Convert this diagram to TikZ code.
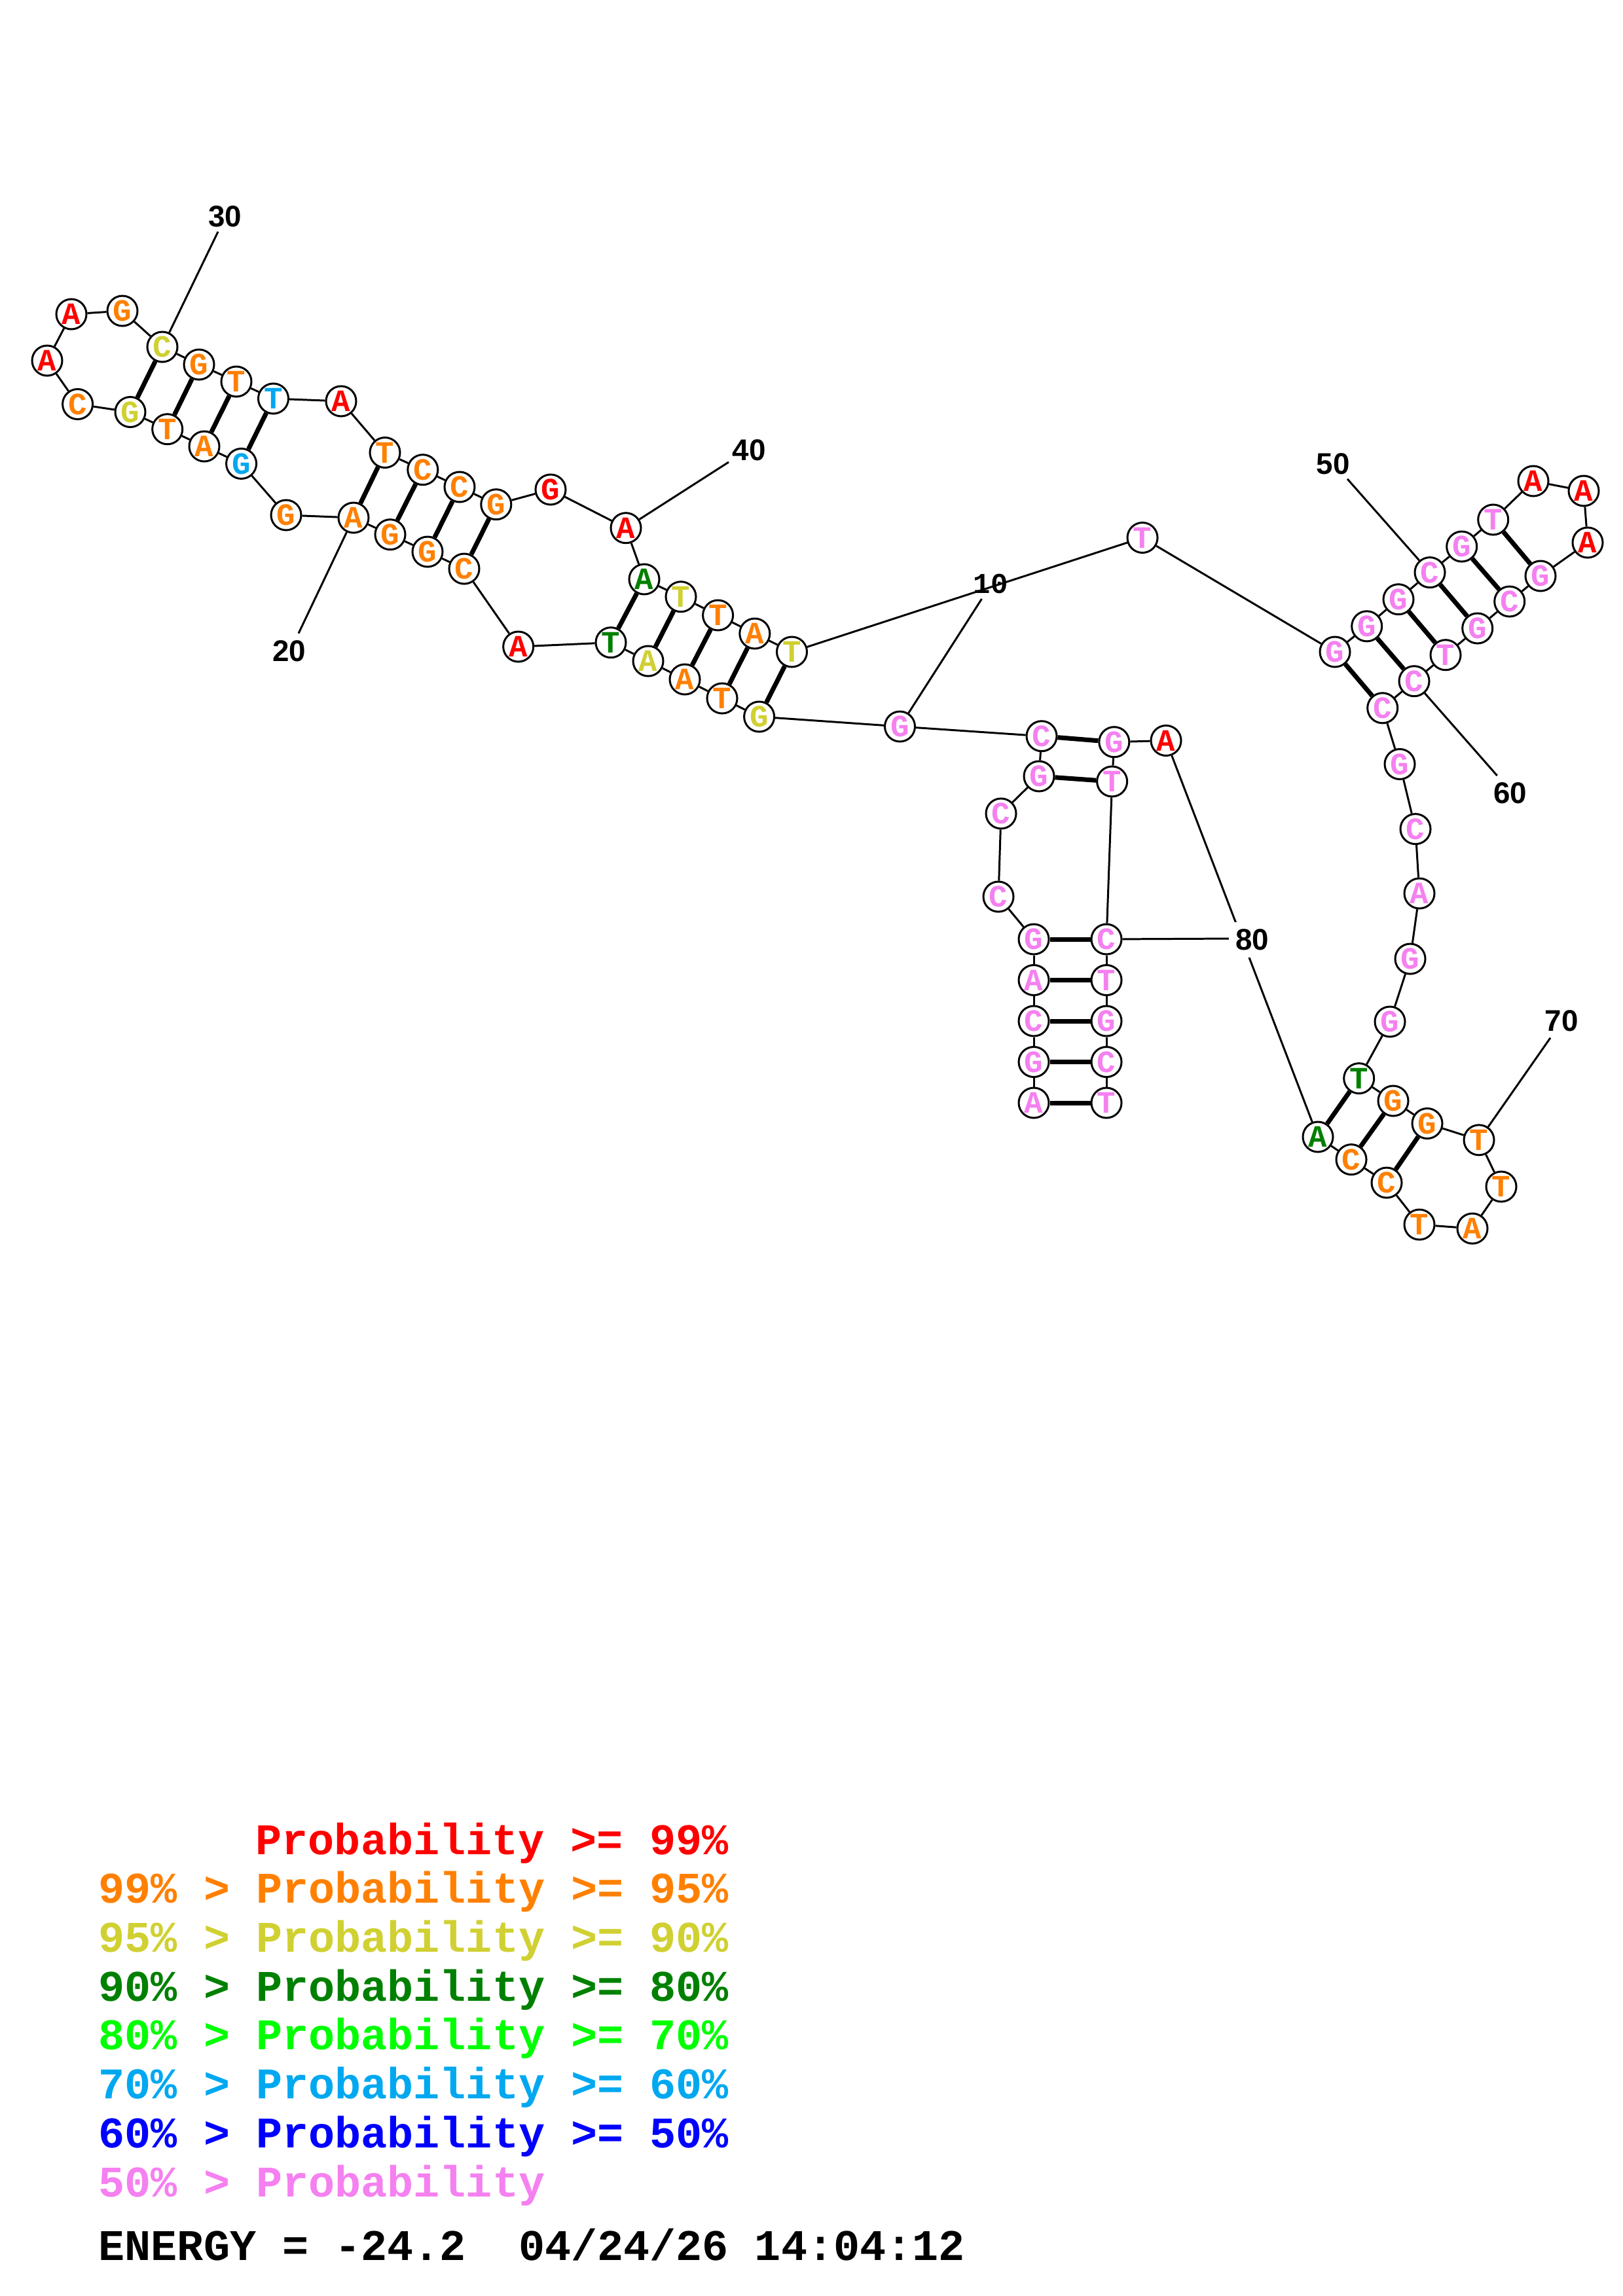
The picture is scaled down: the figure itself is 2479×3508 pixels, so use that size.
\documentclass[tikz,border=0pt]{standalone}
\usepackage{fontspec}
\newfontfamily\monof{Liberation Mono}
\newfontfamily\sansf{Liberation Sans}
\definecolor{rd}{RGB}{255,0,0}
\definecolor{orn}{RGB}{255,128,0}
\definecolor{yel}{RGB}{208,208,50}
\definecolor{dgr}{RGB}{0,128,0}
\definecolor{bgr}{RGB}{0,255,0}
\definecolor{sky}{RGB}{0,168,240}
\definecolor{blu}{RGB}{0,0,255}
\definecolor{pk}{RGB}{245,128,240}
\begin{document}
\begin{tikzpicture}[x=0.01cm,y=-0.01cm,
  nt/.style={circle,draw,line width=0.85pt,minimum size=0.46cm,inner sep=0pt,fill=white,
    font=\monof\bfseries\fontsize{13.5}{13.5}\selectfont},
  bb/.style={line width=0.85pt},
  bp/.style={line width=2pt},
  lab/.style={font=\sansf\bfseries\fontsize{13}{13}\selectfont,inner sep=1pt},
  labm/.style={font=\monof\bfseries\fontsize{12.5}{12.5}\selectfont,inner sep=1pt},
  leg/.style={anchor=base west,inner sep=0pt,font=\monof\bfseries\fontsize{19}{19}\selectfont}]
\useasboundingbox (0,0) rectangle (2479,3508);
% nucleotides
\node[nt,text=pk] (n1) at (1579,1685) {A};
\node[nt,text=pk] (n2) at (1579,1622.5) {G};
\node[nt,text=pk] (n3) at (1579,1560) {C};
\node[nt,text=pk] (n4) at (1579,1497.5) {A};
\node[nt,text=pk] (n5) at (1579,1435) {G};
\node[nt,text=pk] (n6) at (1525,1370) {C};
\node[nt,text=pk] (n7) at (1529,1243) {C};
\node[nt,text=pk] (n8) at (1587,1186) {G};
\node[nt,text=pk] (n9) at (1591,1124.7) {C};
\node[nt,text=pk] (n10) at (1374.5,1110) {G};
\node[nt,text=yel] (n11) at (1159.6,1095) {G};
\node[nt,text=orn] (n12) at (1103,1067) {T};
\node[nt,text=orn] (n13) at (1046,1038) {A};
\node[nt,text=yel] (n14) at (990,1010) {A};
\node[nt,text=dgr] (n15) at (933,981.7) {T};
\node[nt,text=rd] (n16) at (791.7,988) {A};
\node[nt,text=orn] (n17) at (709,869) {C};
\node[nt,text=orn] (n18) at (653,843) {G};
\node[nt,text=orn] (n19) at (596,816.7) {G};
\node[nt,text=orn] (n20) at (540,791) {A};
\node[nt,text=orn] (n21) at (437,787) {G};
\node[nt,text=sky] (n22) at (368.6,708.4) {G};
\node[nt,text=orn] (n23) at (312,682) {A};
\node[nt,text=orn] (n24) at (255.7,655.7) {T};
\node[nt,text=yel] (n25) at (199,629.5) {G};
\node[nt,text=orn] (n26) at (118.6,617.5) {C};
\node[nt,text=rd] (n27) at (72,551) {A};
\node[nt,text=rd] (n28) at (109,480) {A};
\node[nt,text=orn] (n29) at (187,475) {G};
\node[nt,text=yel] (n30) at (248,530) {C};
\node[nt,text=orn] (n31) at (304,557) {G};
\node[nt,text=orn] (n32) at (361,583) {T};
\node[nt,text=sky] (n33) at (417.5,609) {T};
\node[nt,text=rd] (n34) at (521,613) {A};
\node[nt,text=orn] (n35) at (588,691.5) {T};
\node[nt,text=orn] (n36) at (645.8,717.7) {C};
\node[nt,text=orn] (n37) at (702,744) {C};
\node[nt,text=orn] (n38) at (757.8,770.7) {G};
\node[nt,text=rd] (n39) at (841,748) {G};
\node[nt,text=rd] (n40) at (956,806.7) {A};
\node[nt,text=dgr] (n41) at (984,885) {A};
\node[nt,text=yel] (n42) at (1040,911.7) {T};
\node[nt,text=orn] (n43) at (1096.6,940) {T};
\node[nt,text=orn] (n44) at (1152.8,968) {A};
\node[nt,text=yel] (n45) at (1209.5,996) {T};
\node[nt,text=pk] (n46) at (1745,821.5) {T};
\node[nt,text=pk] (n47) at (2039,996) {G};
\node[nt,text=pk] (n48) at (2087.7,956.8) {G};
\node[nt,text=pk] (n49) at (2136,915.7) {G};
\node[nt,text=pk] (n50) at (2184,874.6) {C};
\node[nt,text=pk] (n51) at (2232.7,835) {G};
\node[nt,text=pk] (n52) at (2280.7,794) {T};
\node[nt,text=rd] (n53) at (2342,735) {A};
\node[nt,text=rd] (n54) at (2419,750) {A};
\node[nt,text=rd] (n55) at (2425,829) {A};
\node[nt,text=pk] (n56) at (2353,880) {G};
\node[nt,text=pk] (n57) at (2305.7,919) {C};
\node[nt,text=pk] (n58) at (2256.7,960) {G};
\node[nt,text=pk] (n59) at (2208,1000.7) {T};
\node[nt,text=pk] (n60) at (2160,1040.7) {C};
\node[nt,text=pk] (n61) at (2111.7,1081.8) {C};
\node[nt,text=pk] (n62) at (2138,1167.5) {G};
\node[nt,text=pk] (n63) at (2162,1266.6) {C};
\node[nt,text=pk] (n64) at (2168,1365) {A};
\node[nt,text=pk] (n65) at (2154,1465) {G};
\node[nt,text=pk] (n66) at (2123,1561) {G};
\node[nt,text=dgr] (n67) at (2075.7,1647.6) {T};
\node[nt,text=orn] (n68) at (2128,1682) {G};
\node[nt,text=orn] (n69) at (2180,1716.5) {G};
\node[nt,text=orn] (n70) at (2259,1741.8) {T};
\node[nt,text=orn] (n71) at (2293,1813) {T};
\node[nt,text=orn] (n72) at (2249,1877) {A};
\node[nt,text=orn] (n73) at (2168,1871) {T};
\node[nt,text=orn] (n74) at (2118,1807) {C};
\node[nt,text=orn] (n75) at (2064,1771.6) {C};
\node[nt,text=dgr] (n76) at (2013,1737) {A};
\node[nt,text=rd] (n77) at (1781,1131.5) {A};
\node[nt,text=pk] (n78) at (1701.8,1133.7) {G};
\node[nt,text=pk] (n79) at (1698.6,1194) {T};
\node[nt,text=pk] (n80) at (1690,1435) {C};
\node[nt,text=pk] (n81) at (1690,1497.5) {T};
\node[nt,text=pk] (n82) at (1690,1560) {G};
\node[nt,text=pk] (n83) at (1690,1622.5) {C};
\node[nt,text=pk] (n84) at (1690,1685) {T};
% backbone
\foreach \i in {1,...,83}{\pgfmathtruncatemacro\j{\i+1}\draw[bb] (n\i) -- (n\j);}
% base pairs
\foreach \a/\b in {1/84,2/83,3/82,4/81,5/80,8/79,9/78,11/45,12/44,13/43,14/42,15/41,
  17/38,18/37,19/36,20/35,22/33,23/32,24/31,25/30,47/61,48/60,49/59,50/58,51/57,52/56,
  67/76,68/75,69/74}{\draw[bp] (n\a) -- (n\b);}
% numbering ticks
\coordinate (t10) at (1499.5,915);
\coordinate (t20) at (456,967.7);
\coordinate (t30) at (333,354);
\coordinate (t40) at (1113,706);
\coordinate (t50) at (2058,731.8);
\coordinate (t60) at (2286.7,1185);
\coordinate (t70) at (2368,1585.7);
\coordinate (t80) at (1883.7,1434);
\foreach \k in {10,20,30,40,50,60,70,80}{\draw[bb] (n\k) -- (t\k);}
\node[labm] (l10) at (1513,891.7) {10};
\node[lab] (l20) at (441.7,995) {20};
\node[lab] (l30) at (343.6,331) {30};
\node[lab] (l40) at (1144,688) {40};
\node[lab] (l50) at (2036,708.6) {50};
\node[lab] (l60) at (2306.7,1212) {60};
\node[lab] (l70) at (2385,1560) {70};
\node[lab,fill=white,inner sep=3pt] (l80) at (1912.6,1436) {80};
% legend
\node[leg,text=rd] (g1) at (390,2833) {Probability >= 99\%};
\node[leg,text=orn] (g2) at (150,2907) {99\% > Probability >= 95\%};
\node[leg,text=yel] (g3) at (150,2982) {95\% > Probability >= 90\%};
\node[leg,text=dgr] (g4) at (150,3057) {90\% > Probability >= 80\%};
\node[leg,text=bgr] (g5) at (150,3131) {80\% > Probability >= 70\%};
\node[leg,text=sky] (g6) at (150,3206) {70\% > Probability >= 60\%};
\node[leg,text=blu] (g7) at (150,3281) {60\% > Probability >= 50\%};
\node[leg,text=pk] (g8) at (150,3356) {50\% > Probability};
\node[leg] (en) at (150,3453) {ENERGY = -24.2\ \ 04/24/26 14:04:12};
\end{tikzpicture}
\end{document}
